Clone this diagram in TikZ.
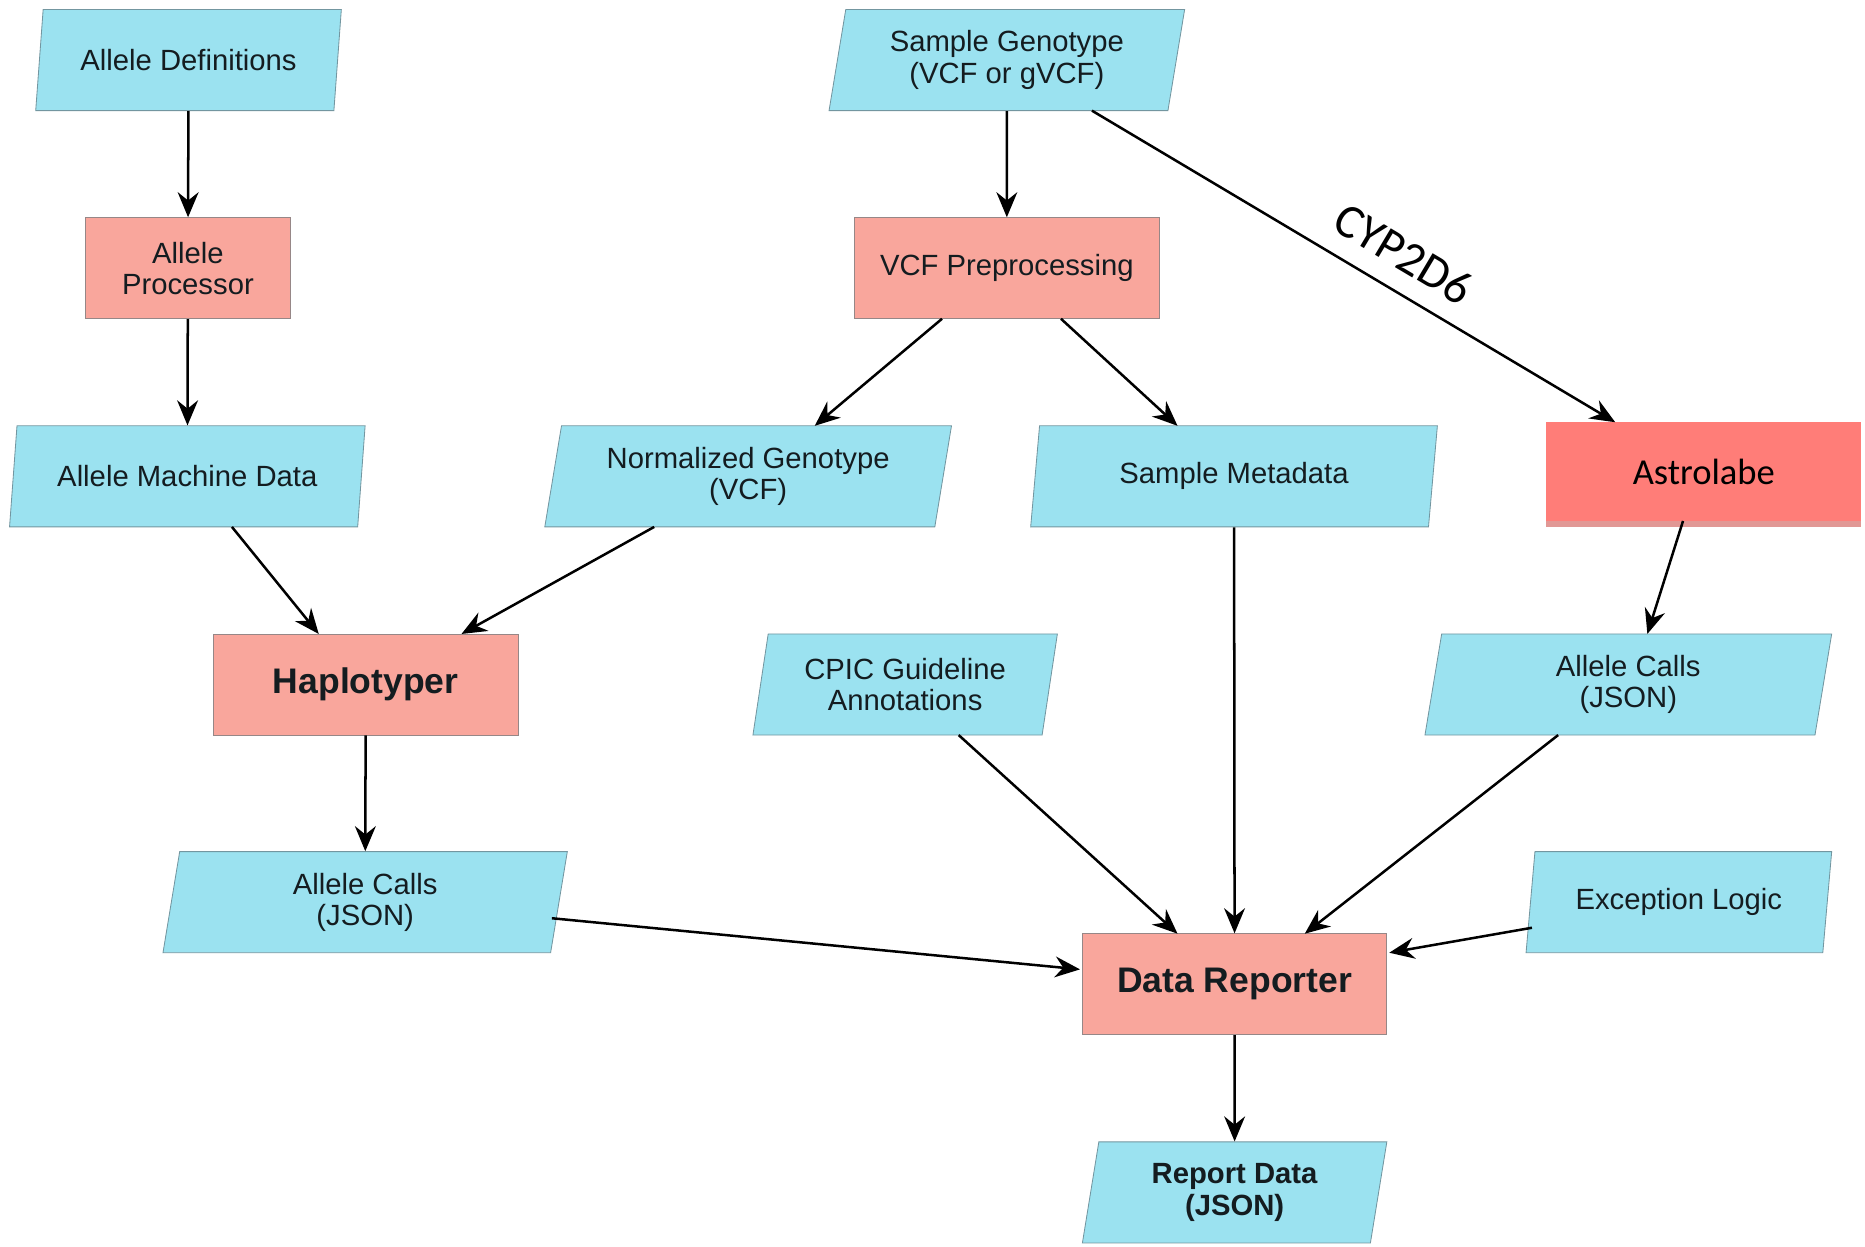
\documentclass[tikz,border=0pt]{standalone}
\usepackage{fontspec}
\setmainfont{Liberation Sans}
\newfontfamily\carlito{Carlito}
\usetikzlibrary{arrows.meta,shapes.geometric,shadows,calc}
\definecolor{dataBlue}{RGB}{155,226,240}
\definecolor{dataEdge}{RGB}{115,150,160}
\definecolor{procRed}{RGB}{249,166,156}
\definecolor{procEdge}{RGB}{150,135,135}
\definecolor{astroRed}{RGB}{255,125,120}
\definecolor{inkDark}{RGB}{20,28,32}
\tikzset{
	dbox/.style={
		trapezium,
		trapezium left angle=76,
		trapezium right angle=104,
		trapezium stretches body,
		draw=dataEdge,
		fill=dataBlue,
		text=inkDark,
		align=center,
		inner sep=2pt,
		minimum height=1.7cm,
		font=\fontsize{14}{15}\selectfont
	},
	pbox/.style={
		rectangle,
		draw=procEdge,
		fill=procRed,
		text=inkDark,
		align=center,
		minimum height=1.7cm,
		font=\fontsize{14}{15}\selectfont
	},
	flow/.style={-{Stealth[length=12pt, width=10pt, inset=4pt]}, line width=1.2pt, black}
}

\begin{document}
\begin{tikzpicture}[x=0.02cm, y=-0.02cm]
	\useasboundingbox (0,0) rectangle (1568,1048);
	% inputs and processors
	\node[dbox, minimum width=5.14cm] (alldef) at (158.5,50.5) {Allele Definitions};
	\node[dbox, minimum width=5.98cm] (smpgen) at (846.5,50.5) {Sample Genotype\\(VCF or gVCF)};
	\node[pbox, minimum width=3.44cm] (allproc) at (158,225.5) {Allele\\Processor};
	\node[pbox, minimum width=5.14cm] (vcfpre) at (846.5,225.5) {VCF Preprocessing};
	\node[dbox, minimum width=5.98cm] (allmach) at (157.5,400.5) {Allele Machine Data};
	\node[dbox, minimum width=6.84cm] (normgen) at (629,400.5) {Normalized Genotype\\(VCF)};
	\node[dbox, minimum width=6.84cm] (smpmeta) at (1037.5,400.5) {Sample Metadata};
	\node[pbox, draw=none, fill=astroRed, minimum width=5.3cm, minimum height=1.66cm,
		drop shadow={shadow xshift=0pt, shadow yshift=-3pt, fill=astroRed!70!gray, opacity=0.8},
		text=black, font=\carlito\fontsize{17.5}{20}\selectfont] (astro) at (1432.5,396.5) {Astrolabe};
	\node[pbox, minimum width=5.14cm, font=\bfseries\fontsize{17}{18}\selectfont] (haplo) at (307.5,575.5) {Haplotyper};
	\node[dbox, minimum width=5.12cm] (cpic) at (761,575.5) {CPIC Guideline\\Annotations};
	\node[dbox, minimum width=6.84cm] (callsR) at (1369,575.5) {Allele Calls\\(JSON)};
	\node[dbox, minimum width=6.8cm] (callsL) at (307,758.5) {Allele Calls\\(JSON)};
	\node[dbox, minimum width=5.14cm] (excep) at (1411.5,758.5) {Exception Logic};
	\node[pbox, minimum width=5.12cm, font=\bfseries\fontsize{17}{18}\selectfont] (report) at (1038,827.5) {Data Reporter};
	\node[dbox, minimum width=5.12cm, font=\bfseries\fontsize{14}{15}\selectfont] (rdata) at (1038,1002.5) {Report Data\\(JSON)};
	% connectors
	\draw[flow] (alldef) -- (allproc);
	\draw[flow] (allproc) -- (allmach);
	\draw[flow] (smpgen) -- (vcfpre);
	\draw[flow] ($(smpgen)+(71.5,42.5)$) -- ($(astro)+(-74.5,-41.5)$)
		node[pos=0.56, sloped, above=9pt, inner sep=0pt, font=\carlito\fontsize{23}{24}\selectfont] {CYP2D6};
	\draw[flow] ($(vcfpre)+(-54.5,42.5)$) -- ($(normgen)+(56,-42.5)$);
	\draw[flow] ($(vcfpre)+(45.5,42.5)$) -- ($(smpmeta)+(-47.5,-42.5)$);
	\draw[flow] ($(allmach)+(37.5,42.5)$) -- ($(haplo)+(-39.5,-42.5)$);
	\draw[flow] ($(normgen)+(-79,42.5)$) -- ($(haplo)+(80.5,-42.5)$);
	\draw[flow] (haplo) -- (callsL);
	\draw[flow] ($(astro)+(-17.5,41.5)$) -- ($(callsR)+(16,-42.5)$);
	\draw[flow] ($(callsL)+(157,13.5)$) -- ($(report)+(-130,-12.5)$);
	\draw[flow] ($(cpic)+(45,42.5)$) -- ($(report)+(-48,-42.5)$);
	\draw[flow] (smpmeta) -- (report);
	\draw[flow] ($(callsR)+(-59,42.5)$) -- ($(report)+(59,-42.5)$);
	\draw[flow] ($(excep)+(-123.5,21.5)$) -- ($(report)+(130,-26.5)$);
	\draw[flow] (report) -- (rdata);
\end{tikzpicture}
\end{document}
